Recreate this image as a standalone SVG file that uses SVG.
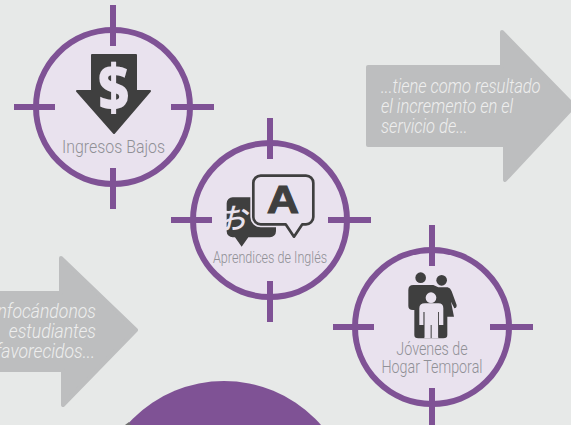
<svg xmlns="http://www.w3.org/2000/svg" width="571" height="425" viewBox="0 0 571 425">
<style>
.ring{fill:#e9e2ee;stroke:#7f5295;stroke-width:6}
.tick{stroke:#7f5295;stroke-width:6;fill:none}
.lbl{font-family:Roboto,"Liberation Sans",sans-serif;font-weight:300;fill:#909096;text-anchor:middle}
.arr{fill:#bdbebf;stroke:#bdbebf;stroke-width:4;stroke-linejoin:round}
.cap{font-family:Roboto,"Liberation Sans",sans-serif;font-style:italic;font-weight:300;font-size:20px;fill:#eeeeee}
.dark{fill:#3f3f3f}
.lite{fill:#e9e2ee}
</style>
<defs>
<g id="target">
<circle class="ring" r="77"/>
<path class="tick" d="M0,-102V-61M0,61V102M-99,0H-58M58,0H101"/>
</g>
</defs>
<rect width="571" height="425" fill="#e7e9e8"/>
<g id="arrow-result">
<path class="arr" d="M368,67H502V32L574,106L505,180V145H368Z"/>
<g class="cap">
<text transform="translate(381,93) scale(.826,1)">...tiene como resultado</text>
<text transform="translate(381,113) scale(.826,1)">el incremento en el</text>
<text transform="translate(381,133) scale(.826,1)">servicio de...</text>
</g>
</g>
<g id="arrow-focus">
<path class="arr" d="M-5,293H61V258L136,330L63,405V370H-5Z"/>
<g class="cap" text-anchor="end">
<text transform="translate(96,318) scale(.88,1)">enfocándonos</text>
<text transform="translate(96,338) scale(.88,1)">estudiantes</text>
<text transform="translate(95,358) scale(.88,1)">desfavorecidos...</text>
</g>
</g>
<g id="node-ingresos">
<use href="#target" x="113" y="107"/>
<path class="dark" stroke="#3f3f3f" stroke-width="2" stroke-linejoin="round" d="M92,55H136V91H150L114,133L77,91H92Z"/>
<text transform="translate(113.500,110) scale(.95,1.12)" font-family="'Open Sans','Liberation Sans',sans-serif" font-weight="800" font-size="57" fill="#e9e2ee" text-anchor="middle">$</text>
<text class="lbl" font-size="18.500" transform="translate(113.500,153) scale(.86,1)">Ingresos Bajos</text>
</g>
<g id="node-aprendices">
<use href="#target" x="270" y="220"/>
<g transform="translate(165,110) scale(.3333)">
<path class="dark" d="M203,262H315a18,18 0 0 1 18,18V364a18,18 0 0 1 -18,18H250L230,410L210,382H203a18,18 0 0 1 -18,-18V280a18,18 0 0 1 18,-18Z"/>
<path fill="#e9e2ee" stroke="#e9e2ee" stroke-width="18" stroke-linejoin="round" d="M287,197H423a22,22 0 0 1 22,22V321a22,22 0 0 1 -22,22H412L387,380L362,343H287a22,22 0 0 1 -22,-22V219a22,22 0 0 1 22,-22Z"/>
<path fill="#e9e2ee" stroke="#3f3f3f" stroke-width="8" stroke-linejoin="round" d="M287,197H423a22,22 0 0 1 22,22V321a22,22 0 0 1 -22,22H412L387,380L362,343H287a22,22 0 0 1 -22,-22V219a22,22 0 0 1 22,-22Z"/>
</g>
<text x="232" y="229" font-family="'Noto Sans CJK JP',sans-serif" font-weight="500" font-size="29" font-style="italic" fill="#e9e2ee" text-anchor="middle">お</text>
<text transform="translate(283,213) scale(1.18,1)" font-family="'Liberation Sans',sans-serif" font-weight="700" font-size="38" fill="#3f3f3f" text-anchor="middle" stroke="#3f3f3f" stroke-width="1">A</text>
<text class="lbl" font-size="17" transform="translate(270,262.500) scale(.74,1)">Aprendices de Inglés</text>
</g>
<g id="node-jovenes">
<use href="#target" x="432" y="327"/>
<g transform="translate(325,220) scale(.3333)">
<circle class="dark" cx="287" cy="173" r="16"/>
<circle class="dark" cx="350" cy="181" r="16"/>
<path class="dark" d="M265,195H325L340,202H368Q376,204 380,214L395,255Q396,263 388,265L378,245L387,290H367V345Q367,355 355,355H280Q268,355 268,345V270H264Q250,270 250,258V210Q250,195 265,195Z"/>
<path class="lite" d="M300,250H340Q355,250 355,265V315H342V276H340V355H320V315H317V355H298V276H296V315H283V265Q283,250 300,250Z"/>
<circle class="lite" cx="318" cy="233" r="16"/>
<path class="dark" d="M296,276H298V352H296ZM340,276H342V352H340Z"/>
</g>
<text class="lbl" font-size="18" transform="translate(432,355) scale(.795,1)">Jóvenes de</text>
<text class="lbl" font-size="18" transform="translate(432,373) scale(.795,1)">Hogar Temporal</text>
</g>
<g id="node-bottom">
<circle cx="224" cy="510" r="129" fill="#7f5295"/>
<path d="M125,425L129,422L131,425Z" fill="#6e6e6e"/>
</g>
</svg>
